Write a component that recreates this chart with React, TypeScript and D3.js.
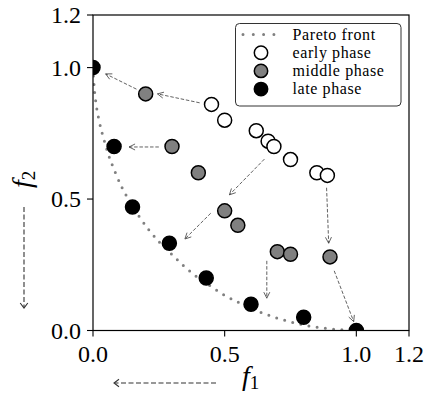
import React from "react";
import * as d3 from "d3";

// ---- data ----
const earlyX = [0.45, 0.5, 0.62, 0.665, 0.687, 0.75, 0.85, 0.89];
const earlyY = [0.86, 0.8, 0.76, 0.72, 0.7, 0.65, 0.6, 0.59];
const middleX = [0.2, 0.3, 0.4, 0.5, 0.55, 0.7, 0.75, 0.9];
const middleY = [0.9, 0.7, 0.6, 0.455, 0.4, 0.3, 0.29, 0.28];
const lateX = [0.0, 0.08, 0.15, 0.29, 0.43, 0.6, 0.8, 1.0];
const lateY = [1.0, 0.7, 0.47, 0.332, 0.2, 0.1, 0.05, 0.0];
const frontX = [0, 0.005, 0.012, 0.025, 0.042, 0.06, 0.083, 0.108, 0.14, 0.171, 0.209, 0.25, 0.295, 0.34, 0.387, 0.43, 0.49, 0.55, 0.63, 0.69, 0.75, 0.81, 0.875, 0.94, 1.0];
const frontY = [1, 0.92, 0.86, 0.79, 0.725, 0.665, 0.605, 0.548, 0.49, 0.44, 0.387, 0.338, 0.294, 0.25, 0.21, 0.18, 0.14, 0.108, 0.072, 0.05, 0.033, 0.019, 0.009, 0.003, 0];
// arrows: [fromX, fromY, toX, toY]
const arrows: [number, number, number, number][] = [
  [0.405, 0.866, 0.245, 0.9],
  [0.165, 0.918, 0.048, 0.976],
  [0.25, 0.698, 0.137, 0.698],
  [0.651, 0.652, 0.518, 0.516],
  [0.447, 0.446, 0.349, 0.348],
  [0.66, 0.265, 0.66, 0.123],
  [0.887, 0.543, 0.895, 0.332],
  [0.916, 0.227, 0.99, 0.034],
];
const xTicks = [0, 0.5, 1.0, 1.2];
const yTicks = [0, 0.5, 1.0, 1.2];
const legendLabels = ["Pareto front", "early phase", "middle phase", "late phase"];
const phaseFills = ["#ffffff", "#808080", "#000000"];

const W = 427;
const H = 395;
const FONT = '"Liberation Serif", "DejaVu Serif", "Times New Roman", serif';

function arrowHead(x1: number, y1: number, x2: number, y2: number, len: number, half: number) {
  const a = Math.atan2(y2 - y1, x2 - x1);
  const bx = x2 - len * Math.cos(a);
  const by = y2 - len * Math.sin(a);
  const px = -Math.sin(a) * half;
  const py = Math.cos(a) * half;
  return `M${bx + px},${by + py}L${x2},${y2}L${bx - px},${by - py}`;
}

export default function App() {
  const x = d3.scaleLinear().domain([0, 1.2]).range([93, 409]);
  const y = d3.scaleLinear().domain([0, 1.2]).range([330.5, 15]);
  const line = d3
    .line<number>()
    .x((_, i) => x(frontX[i]))
    .y((d) => y(d))
    .curve(d3.curveMonotoneX);

  const series = [
    { xs: earlyX, ys: earlyY, fill: phaseFills[0] },
    { xs: middleX, ys: middleY, fill: phaseFills[1] },
    { xs: lateX, ys: lateY, fill: phaseFills[2] },
  ];

  const [x0, x1] = x.range();
  const [yb, yt] = y.range();
  const legendRowY = [34.5, 52.7, 70.9, 89.1];

  return (
    <svg width={W} height={H} style={{ display: "block", position: "absolute", left: 0, top: 0, fontFamily: FONT }}>
      <defs>
        <clipPath id="plotclip">
          <rect x={x0} y={yt} width={x1 - x0} height={yb - yt} />
        </clipPath>
      </defs>
      <rect x={0} y={0} width={W} height={H} fill="#fff" />
      {/* Pareto front */}
      <path
        d={line(frontY) || ""}
        fill="none"
        stroke="#808080"
        strokeWidth={3}
        strokeLinecap="round"
        strokeDasharray="0 8.3"
        clipPath="url(#plotclip)"
      />
      {/* arrows */}
      {arrows.map(([fx, fy, tx, ty], i) => {
        const X1 = x(fx), Y1 = y(fy), X2 = x(tx), Y2 = y(ty);
        return (
          <g key={"a" + i} stroke="#3a3a3a" strokeWidth={0.8} fill="none">
            <line x1={X1} y1={Y1} x2={X2} y2={Y2} strokeDasharray="3.5 1.8" />
            <path d={arrowHead(X1, Y1, X2, Y2, 6, 3)} />
          </g>
        );
      })}
      {/* markers */}
      <g clipPath="url(#plotclip)">
        {series.map((s, si) =>
          s.xs.map((v, i) => (
            <circle
              key={`p${si}-${i}`}
              cx={x(v)}
              cy={y(s.ys[i])}
              r={7}
              fill={s.fill}
              stroke="#000"
              strokeWidth={1.5}
            />
          ))
        )}
      </g>
      {/* frame */}
      <rect x={x0} y={yt} width={x1 - x0} height={yb - yt} fill="none" stroke="#000" strokeWidth={1.2} />
      {/* x ticks */}
      {xTicks.map((t) => (
        <g key={"xt" + t}>
          <line x1={x(t)} x2={x(t)} y1={yb} y2={yb + 6} stroke="#000" strokeWidth={1.1} />
          <text x={x(t)} y={yb + 31} textAnchor="middle" fontSize={24} fontFamily={FONT}>
            {t.toFixed(1)}
          </text>
        </g>
      ))}
      {/* y ticks */}
      {yTicks.map((t) => (
        <g key={"yt" + t}>
          <line x1={x0 - 6} x2={x0} y1={y(t)} y2={y(t)} stroke="#000" strokeWidth={1.1} />
          <text x={x0 - 12} y={y(t) + 8} textAnchor="end" fontSize={24} fontFamily={FONT}>
            {t.toFixed(1)}
          </text>
        </g>
      ))}
      {/* axis labels */}
      <text x={242} y={385} fontSize={28} fontStyle="italic" fontFamily={FONT}>
        f<tspan fontStyle="normal" fontSize={19} dy={4}>1</tspan>
      </text>
      <text transform="translate(31,188) rotate(-90)" fontSize={28} fontStyle="italic" fontFamily={FONT}>
        f<tspan fontStyle="normal" fontSize={19} dy={4}>2</tspan>
      </text>
      {/* direction arrows */}
      <g stroke="#333" strokeWidth={1.1} fill="none">
        <line x1={216} y1={383} x2={115} y2={383} strokeDasharray="5 2.5" />
        <path d={arrowHead(216, 383, 114, 383, 5, 3.8)} />
        <line x1={24} y1={207} x2={24} y2={307} strokeDasharray="5 2.5" />
        <path d={arrowHead(24, 207, 24, 308, 5, 3.8)} />
      </g>
      {/* legend */}
      <rect x={235.5} y={23.5} width={165.5} height={82.5} rx={4} fill="#fff" stroke="#333" strokeWidth={1} />
      <line
        x1={243}
        x2={274}
        y1={legendRowY[0]}
        y2={legendRowY[0]}
        stroke="#808080"
        strokeWidth={3}
        strokeLinecap="round"
        strokeDasharray="0 10.3"
      />
      {phaseFills.map((f, i) => (
        <circle key={"lg" + i} cx={261} cy={legendRowY[i + 1]} r={6.7} fill={f} stroke="#000" strokeWidth={1.5} />
      ))}
      {legendLabels.map((l, i) => (
        <text key={"lt" + i} x={292.5} y={legendRowY[i] + 5} fontSize={16} letterSpacing={0.6} fontFamily={FONT}>
          {l}
        </text>
      ))}
    </svg>
  );
}
